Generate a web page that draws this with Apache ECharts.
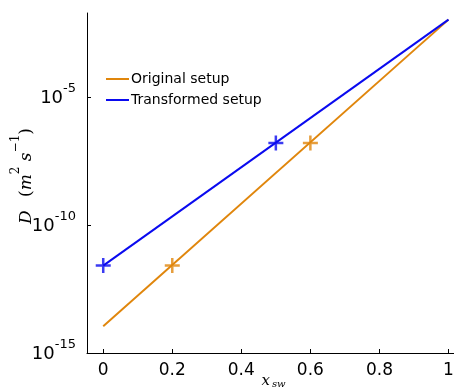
<!DOCTYPE html>
<html>
<head>
<meta charset="utf-8">
<script src="https://cdn.jsdelivr.net/npm/echarts@6/dist/echarts.min.js"></script>
<style>
  html, body { margin: 0; padding: 0; background: #fff; }
  #chart { width: 454px; height: 388px; }
</style>
</head>
<body>
<div id="chart"></div>
<script>
// line end points (x_sw, D)
const origLineX = [0, 1]
const origLineD = [1.1e-14, 1.05e-2]
const transLineX = [0, 1]
const transLineD = [2.6e-12, 1.05e-2]
// '+' markers
const origMarkX = [0.2, 0.6]
const origMarkD = [2.6e-12, 1.6e-7]
const transMarkX = [0, 0.5]
const transMarkD = [2.6e-12, 1.6e-7]
// ticks
const xTicks = [0, 0.2, 0.4, 0.6, 0.8, 1]
const yTicks = [1e-15, 1e-10, 1e-5]

const orange = '#e0860c'
const blue = '#0a0aef'
const plus = 'path://M0,5 L10,5 M5,0 L5,10'

const pairs = (xs, ys) => xs.map((x, i) => [x, ys[i]])

const chart = echarts.init(document.getElementById('chart'))
const option = {
  animation: false,
  grid: { left: 87, right: 0, top: 13, bottom: 35, outerBoundsMode: 'none', containLabel: false },
  legend: {
    left: 106,
    top: 72,
    padding: 0,
    orient: 'vertical',
    icon: 'rect',
    itemWidth: 23,
    itemHeight: 2,
    itemGap: 7,
    textStyle: { fontFamily: 'DejaVu Sans', fontSize: 14, color: '#000', padding: [0, 0, 0, -3] },
    data: ['Original setup', 'Transformed setup']
  },
  xAxis: {
    type: 'value',
    min: -0.047,
    max: 1.016,
    name: '{i|x}{s|sw}',
    nameLocation: 'middle',
    nameGap: 18,
    nameMoveOverlap: false,
    nameTextStyle: {
      padding: [0, 0, 0, 6],
      rich: {
        i: { fontFamily: 'DejaVu Serif', fontStyle: 'italic', fontSize: 15, color: '#000', verticalAlign: 'bottom' },
        s: { fontFamily: 'DejaVu Serif', fontStyle: 'italic', fontSize: 10, color: '#000', verticalAlign: 'bottom', padding: [8, 0, 0, 2] }
      }
    },
    splitLine: { show: false },
    axisLine: { lineStyle: { color: '#000', width: 1 } },
    axisTick: { inside: true, length: 4, customValues: xTicks, lineStyle: { color: '#000' } },
    axisLabel: {
      customValues: xTicks,
      margin: 9,
      fontFamily: 'DejaVu Sans',
      fontSize: 17,
      color: '#000'
    }
  },
  yAxis: {
    type: 'log',
    logBase: 10,
    min: 1e-15,
    max: Math.pow(10, -1.72),
    name: '{i|D}    {n|(}{i|m}{p|2}{n| }{i|s}{p|−1}{n|)}',
    nameLocation: 'middle',
    nameGap: 52,
    nameMoveOverlap: false,
    nameRotate: 90,
    nameTextStyle: {
      padding: [0, 0, 0, 14],
      rich: {
        i: { fontFamily: 'DejaVu Serif', fontStyle: 'italic', fontSize: 17, color: '#000', verticalAlign: 'bottom', padding: [8, 0, 0, 0] },
        n: { fontFamily: 'DejaVu Serif', fontSize: 17, color: '#000', verticalAlign: 'bottom', padding: [8, 0, 0, 0] },
        p: { fontFamily: 'DejaVu Serif', fontSize: 12, color: '#000', verticalAlign: 'top' }
      }
    },
    splitLine: { show: false },
    axisLine: { show: true, onZero: false, lineStyle: { color: '#000', width: 1 } },
    axisTick: { show: true, inside: true, length: 4, customValues: yTicks, lineStyle: { color: '#000' } },
    axisLabel: {
      customValues: yTicks,
      margin: 11,
      padding: [0, 0, 4, 0],
      formatter: (v) => '{b|10}{s|-' + Math.abs(Math.round(Math.log10(v))) + '}',
      rich: {
        b: { fontFamily: 'DejaVu Sans', fontSize: 18, color: '#000', verticalAlign: 'bottom', padding: [7, 0, 0, 0] },
        s: { fontFamily: 'DejaVu Sans', fontSize: 13, color: '#000', verticalAlign: 'top' }
      }
    }
  },
  series: [
    {
      name: 'Original setup',
      type: 'line',
      data: pairs(origLineX, origLineD),
      showSymbol: false,
      lineStyle: { color: orange, width: 2 },
      itemStyle: { color: orange },
      z: 2
    },
    {
      name: 'Transformed setup',
      type: 'line',
      data: pairs(transLineX, transLineD),
      showSymbol: false,
      lineStyle: { color: blue, width: 2 },
      itemStyle: { color: blue },
      z: 2
    },
    {
      type: 'scatter',
      data: pairs(origMarkX, origMarkD),
      symbol: plus,
      symbolSize: 15,
      itemStyle: { color: 'none', borderColor: orange, borderWidth: 2.5 },
      z: 3
    },
    {
      type: 'scatter',
      data: pairs(transMarkX, transMarkD),
      symbol: plus,
      symbolSize: 15,
      itemStyle: { color: 'none', borderColor: blue, borderWidth: 2.5 },
      z: 3
    }
  ]
}
chart.setOption(option)
</script>
</body>
</html>
